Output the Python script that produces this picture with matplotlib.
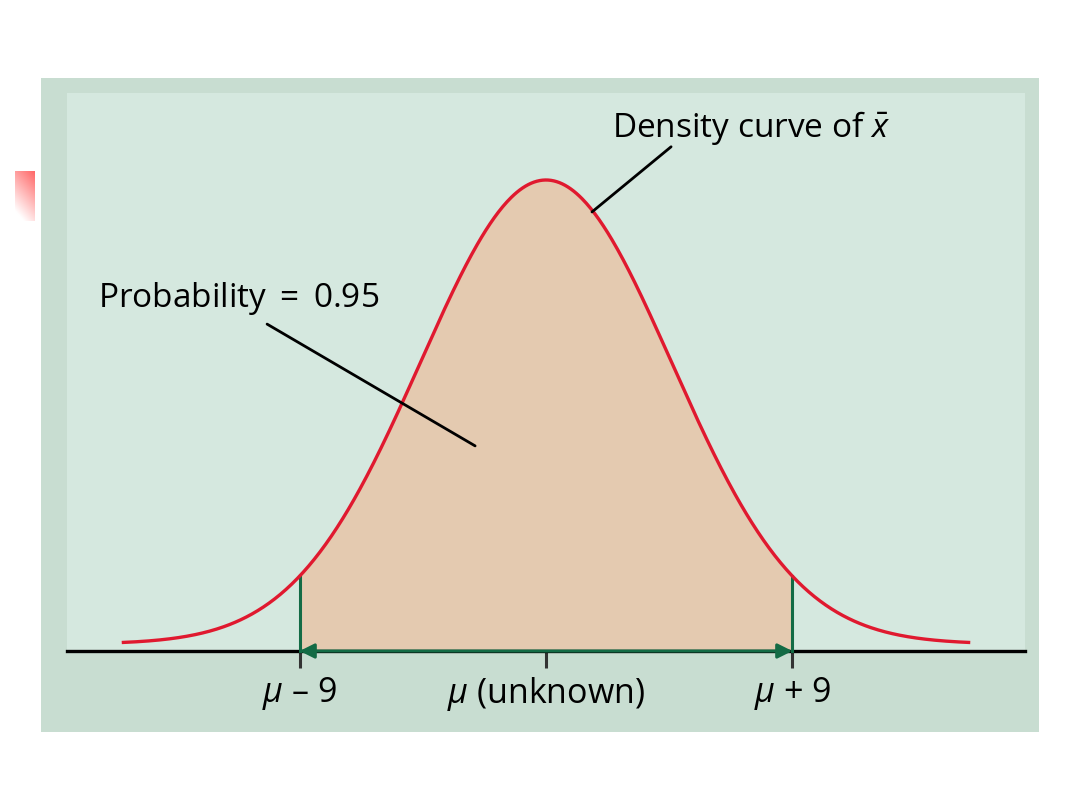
import numpy as np
import matplotlib
matplotlib.use("Agg")
import matplotlib.pyplot as plt
from matplotlib.patches import Rectangle

plt.rcParams['font.family'] = ['Open Sans', 'DejaVu Sans']
plt.rcParams['mathtext.fontset'] = 'custom'
plt.rcParams['mathtext.rm'] = 'Open Sans'
plt.rcParams['mathtext.it'] = 'Open Sans:italic'

# chart values
margin = 9            # mu +/- 9
prob = 0.95
z_crit = 1.96
sigma = margin / z_crit
tick_pos = [-margin, 0, margin]
tick_labels = [r'$\mu$ – 9', r'$\mu$ (unknown)', r'$\mu$ + 9']
curve_span = 15.5     # how far the drawn curve reaches, in units
lift = 0.0013         # the curve tails sit a little above the axis line

W, H = 1080, 810
fig = plt.figure(figsize=(W / 100, H / 100), dpi=100)
fig.patch.set_facecolor('white')

# outer panel
fig.patches.append(Rectangle((41 / W, 1 - 732 / H), 998 / W, 654 / H,
                             transform=fig.transFigure, facecolor='#c8ddd1',
                             edgecolor='none', zorder=-5))

# little red gradient marker on the left
gax = fig.add_axes([15 / W, 1 - 221 / H, 20 / W, 50 / H])
gy, gx = np.mgrid[0:1:50j, 0:1:20j]
grad = np.clip(1 - (0.8 * gy + 0.35 * (1 - gx)), 0, 1)
red = np.array([1.0, 0.40, 0.40])
img = 1 - grad[..., None] * (1 - red)
gax.imshow(img, aspect='auto', interpolation='bilinear')
gax.axis('off')

ax = fig.add_axes([67 / W, 1 - 651 / H, 958 / W, 558 / H])
ax.set_facecolor('#d5e8df')
x = np.linspace(-curve_span, curve_span, 600)
pdf = np.exp(-x**2 / (2 * sigma**2)) / (sigma * np.sqrt(2 * np.pi)) + lift
peak = pdf.max()
ax.set_xlim(-17.5, 17.5)
ax.set_ylim(0, peak * 558 / 471)

inside = (x >= -margin) & (x <= margin)
ax.fill_between(x[inside], 0, pdf[inside], color='#e4cab0', linewidth=0, zorder=1)
ax.plot(x, pdf, color='#e0192f', lw=2.4, zorder=4, solid_capstyle='butt')

# green boundaries and interval arrow
green = '#136b45'
y_edge = np.exp(-z_crit**2 / 2) / (sigma * np.sqrt(2 * np.pi)) + lift
for xe in (-margin, margin):
    ax.plot([xe, xe], [0, y_edge], color=green, lw=2.2, zorder=3, clip_on=False)

ax.axhline(0, color='black', lw=2.4, zorder=2, clip_on=False)
ax.annotate('', xy=(-margin, 0), xytext=(margin, 0),
            arrowprops=dict(arrowstyle='<|-|>', color=green, lw=2.2,
                            mutation_scale=22, shrinkA=0, shrinkB=0),
            zorder=5, annotation_clip=False)

for s in ax.spines.values():
    s.set_visible(False)
ax.set_yticks([])
ax.set_xticks(tick_pos)
ax.set_xticklabels(tick_labels, fontsize=24.5)
ax.tick_params(axis='x', length=12, width=2.2, color='#333333', pad=5,
               direction='out')

# annotations: text plus leader line
ax.text(2.41, 0.0963, r'Density curve of $\bar{x}$', fontsize=24,
        ha='left', va='baseline', zorder=6)
ax.annotate('', xy=(1.68, 0.0822), xytext=(4.57, 0.0944),
            arrowprops=dict(arrowstyle='-', color='black', lw=2,
                            shrinkA=0, shrinkB=0), zorder=6)
ax.text(-16.37, 0.0644, r'Probability $=$ %.2f' % prob, fontsize=24,
        ha='left', va='baseline', zorder=6)
ax.annotate('', xy=(-2.59, 0.0384), xytext=(-10.19, 0.0612),
            arrowprops=dict(arrowstyle='-', color='black', lw=2,
                            shrinkA=0, shrinkB=0), zorder=6)

fig.savefig('out.png', dpi=100, facecolor='white')
